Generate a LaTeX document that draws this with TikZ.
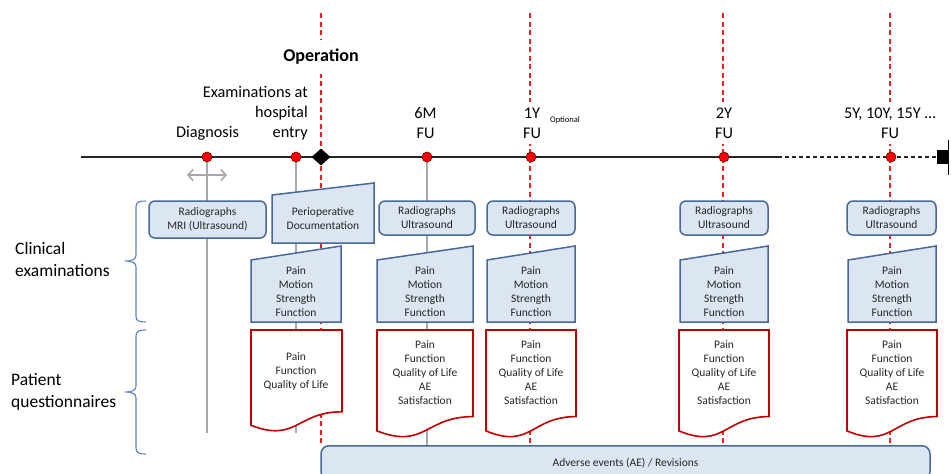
\documentclass[tikz,border=0pt]{standalone}
\usepackage{fontspec}
\setmainfont{Carlito}
\usetikzlibrary{arrows.meta,shapes.geometric}
\definecolor{boxfill}{HTML}{DCE6F2}
\definecolor{boxline}{HTML}{46689A}
\definecolor{docred}{HTML}{C00000}
\definecolor{bracecol}{HTML}{5B84BE}
\definecolor{linegray}{HTML}{A8A8A8}
\definecolor{dashred}{HTML}{F02020}

\begin{document}
\begin{tikzpicture}[x=1pt,y=-1pt,
  txt/.style={font=\fontsize{11.5}{14}\selectfont,align=center,inner sep=0pt,text=black!85},
  big/.style={font=\fontsize{16.3}{20}\selectfont,align=center,inner sep=0pt},
  side/.style={font=\fontsize{17.5}{22}\selectfont,align=left,inner sep=0pt,anchor=west},
  fulabel/.style={big,fill=white,inner xsep=2pt,inner ysep=6pt},
  rbox/.style={txt,draw=boxline,fill=boxfill,line width=1.5pt,rounded corners=6pt,minimum height=34pt},
  mibox/.style={draw=boxline,fill=boxfill,line width=1.5pt},
  docbox/.style={draw=docred,fill=white,line width=1.6pt},
  reddash/.style={dashred,line width=1.2pt,dash pattern=on 5pt off 3.5pt},
  grayline/.style={linegray,line width=1.2pt},
  dot/.style={circle,fill=red,draw=black!60!red,line width=0.6pt,inner sep=0pt,minimum size=10pt},
  brace/.style={bracecol,line width=1.1pt}]
\useasboundingbox (0,0) rectangle (951,474);
% time points
\coordinate (pDx) at (207,157);
\coordinate (pHe) at (296,157);
\coordinate (pOp) at (321,157);
\coordinate (p6M) at (427,157);
\coordinate (p1Y) at (531,157);
\coordinate (p2Y) at (724,157);
\coordinate (p5Y) at (891,157);
\coordinate (opTop) at (321,13);
\coordinate (opBot) at (321,445);
\coordinate (y1Top) at (530,13);
\coordinate (y1Bot) at (530,445);
\coordinate (y2Top) at (723,13);
\coordinate (y2Bot) at (723,445);
\coordinate (y5Top) at (890,13);
\coordinate (y5Bot) at (890,445);
\coordinate (gDx) at (207,433);
\coordinate (gHe) at (296,433);
\coordinate (g6M) at (427,445);
\coordinate (aL) at (187,175);
\coordinate (aR) at (227,175);
\draw[reddash] (opTop) -- (opBot);
\draw[reddash] (y1Top) -- (y1Bot);
\draw[reddash] (y2Top) -- (y2Bot);
\draw[reddash] (y5Top) -- (y5Bot);
\draw[grayline] (pDx) -- (gDx);
\draw[grayline] (pHe) -- (gHe);
\draw[grayline] (p6M) -- (g6M);
\draw[grayline,line width=1.6pt,{Straight Barb[length=5pt,width=11pt]}-{Straight Barb[length=5pt,width=11pt]}] (aL) -- (aR);
% clinical examinations
\node[rbox,minimum width=117pt,minimum height=37pt] (rDx) at (207.5,219.5) {Radiographs\\MRI (Ultrasound)};
\draw[mibox] (272,195) -- (374,183) -- (374,243) -- (272,243) -- cycle;
\node[txt] (tPeri) at (323,219) {Perioperative\\Documentation};
\node[rbox,minimum width=96pt] (r6M) at (427,218) {Radiographs\\Ultrasound};
\node[rbox,minimum width=88pt] (r1Y) at (531,218) {Radiographs\\Ultrasound};
\node[rbox,minimum width=88pt] (r2Y) at (724,218) {Radiographs\\Ultrasound};
\node[rbox,minimum width=89pt] (r5Y) at (891.5,218) {Radiographs\\Ultrasound};
\draw[mibox] (251,260) -- (341,246) -- (341,322) -- (251,322) -- cycle;
\draw[mibox] (377,260) -- (473,246) -- (473,322) -- (377,322) -- cycle;
\draw[mibox] (487,260) -- (575,246) -- (575,322) -- (487,322) -- cycle;
\draw[mibox] (680,260) -- (768,246) -- (768,322) -- (680,322) -- cycle;
\draw[mibox] (848,260) -- (936,246) -- (936,322) -- (848,322) -- cycle;
\node[txt] (tPmHe) at (296,292) {Pain\\Motion\\Strength\\Function};
\node[txt] (tPm6M) at (425,292) {Pain\\Motion\\Strength\\Function};
\node[txt] (tPm1Y) at (531,292) {Pain\\Motion\\Strength\\Function};
\node[txt] (tPm2Y) at (724,292) {Pain\\Motion\\Strength\\Function};
\node[txt] (tPm5Y) at (892,292) {Pain\\Motion\\Strength\\Function};
% patient questionnaires
\draw[docbox] (251,330) -- (342,330) -- (342,411.8) .. controls (296.5,411.8) and (296.5,443) .. (251,425.3) -- cycle;
\draw[docbox] (377,330) -- (473,330) -- (473,416.6) .. controls (425,416.6) and (425,449.6) .. (377,430.9) -- cycle;
\draw[docbox] (486,330) -- (576,330) -- (576,416.6) .. controls (531,416.6) and (531,449.6) .. (486,430.9) -- cycle;
\draw[docbox] (679,330) -- (769,330) -- (769,416.6) .. controls (724,416.6) and (724,449.6) .. (679,430.9) -- cycle;
\draw[docbox] (847,330) -- (937,330) -- (937,416.6) .. controls (892,416.6) and (892,449.6) .. (847,430.9) -- cycle;
\node[txt] (tQHe) at (296,371) {Pain\\Function\\Quality of Life};
\node[txt] (tQ6M) at (425,373) {Pain\\Function\\Quality of Life\\AE\\Satisfaction};
\node[txt] (tQ1Y) at (531,373) {Pain\\Function\\Quality of Life\\AE\\Satisfaction};
\node[txt] (tQ2Y) at (724,373) {Pain\\Function\\Quality of Life\\AE\\Satisfaction};
\node[txt] (tQ5Y) at (892,373) {Pain\\Function\\Quality of Life\\AE\\Satisfaction};
\node[rbox,rounded corners=8pt,minimum width=609pt,anchor=north] (ae) at (625.5,445) {Adverse events (AE) / Revisions};
% braces
\draw[brace] (146,201) .. controls (139,201) and (136,202) .. (136,207) -- (136,255)
  .. controls (136,259) and (133,261) .. (125,261) .. controls (133,261) and (136,263) .. (136,267)
  -- (136,316) .. controls (136,321) and (139,322) .. (146,322);
\draw[brace] (146,330) .. controls (139,330) and (136,331) .. (136,336) -- (136,386)
  .. controls (136,390) and (133,392) .. (125,392) .. controls (133,392) and (136,394) .. (136,398)
  -- (136,448) .. controls (136,453) and (139,454) .. (146,454);
\node[side] (lClin) at (15,259.5) {Clinical\\examinations};
\node[side] (lPat) at (11,392) {Patient\\questionnaires};
% time line
\coordinate (tStart) at (81,157);
\coordinate (tDash) at (778,157);
\coordinate (tEnd) at (937,157);
\draw[black!85,line width=1.3pt] (tStart) -- (tDash);
\draw[black!85,line width=1.3pt,dash pattern=on 4pt off 3pt] (tDash) -- (tEnd);
\fill (937,150) rectangle (948,164);
\draw[line width=1.5pt] (948.5,140) -- (948.5,175);
\node[diamond,fill=black,inner sep=0pt,minimum width=19pt,minimum height=17pt] (dOp) at (pOp) {};
\node[dot] (dDx) at (pDx) {};
\node[dot] (dHe) at (pHe) {};
\node[dot] (d6M) at (p6M) {};
\node[dot] (d1Y) at (p1Y) {};
\node[dot] (d2Y) at (p2Y) {};
\node[dot] (d5Y) at (p5Y) {};
% labels
\node[font=\bfseries\fontsize{18}{22}\selectfont,fill=white,inner xsep=2pt,inner ysep=9pt] (lOp) at (321,57) {Operation};
\node[big,align=right,anchor=east] (lHe) at (308,113) {Examinations at\\hospital\\entry};
\node[big] (lDx) at (207.5,133) {Diagnosis};
\node[big] (l6M) at (425.5,123) {6M\\FU};
\node[fulabel] (l1Y) at (532,123) {1Y\\FU};
\node[font=\fontsize{8.5}{10}\selectfont,inner sep=0pt] (lOpt) at (565,120) {Optional};
\node[fulabel] (l2Y) at (724,123) {2Y\\FU};
\node[fulabel] (l5Y) at (890,123) {5Y, 10Y, 15Y …\\FU};
\end{tikzpicture}
\end{document}
